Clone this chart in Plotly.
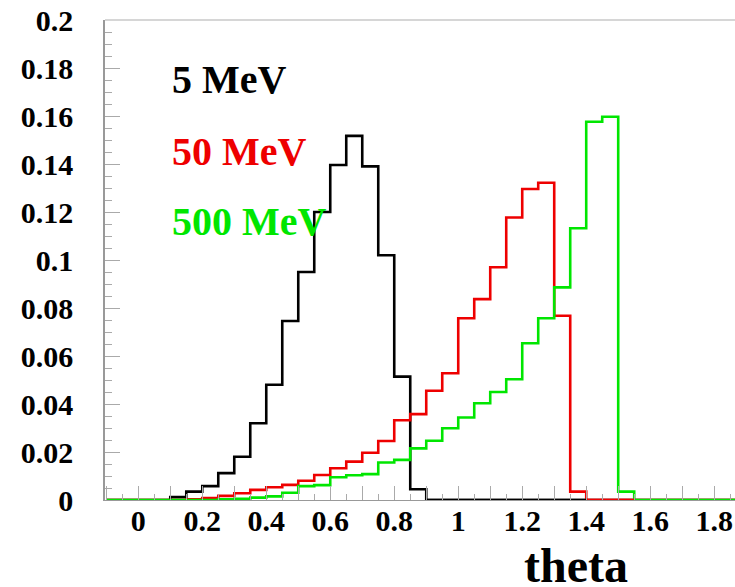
import plotly.graph_objects as go

# ---- data ----
BIN_START = -0.1
BIN_WIDTH = 0.05
N_BINS = 40

black_5mev = [0, 0, 0, 0, 0.0012, 0.0035, 0.0058, 0.0112, 0.018, 0.032,
              0.048, 0.0746, 0.095, 0.120, 0.1396, 0.1517, 0.139, 0.102, 0.0514, 0.0045,
              0, 0, 0, 0, 0, 0, 0, 0, 0, 0,
              0, 0, 0, 0, 0, 0, 0, 0, 0, 0]
red_50mev = [0, 0, 0, 0, 0, 0.0003, 0.0008, 0.0017, 0.0028, 0.0042,
             0.0053, 0.0063, 0.008, 0.0104, 0.0132, 0.016, 0.0197, 0.0246, 0.0332, 0.0358,
             0.0455, 0.0528, 0.0757, 0.0837, 0.097, 0.1177, 0.1296, 0.1322, 0.0768, 0.0035,
             0, 0, 0, 0, 0, 0, 0, 0, 0, 0]
green_500mev = [0, 0, 0, 0, 0, 0, 0, 0.0003, 0.0005, 0.001,
                0.0015, 0.003, 0.0058, 0.0062, 0.0095, 0.0103, 0.0108, 0.0156, 0.0167, 0.0215,
                0.0247, 0.0299, 0.0344, 0.0403, 0.045, 0.0503, 0.0653, 0.0757, 0.0886, 0.1132,
                0.1576, 0.1597, 0.0035, 0, 0, 0, 0, 0, 0, 0]

series_labels = ["5 MeV", "50 MeV", "500 MeV"]
series_colors = ["#000000", "#ee0000", "#00e600"]

x_tick_vals = [round(-0.1 + 0.1 * i, 1) for i in range(20)]
x_tick_text = ["" if abs(round(v * 10)) % 2 else ("0" if v == 0 else ("1" if v == 1 else f"{v:g}")) for v in x_tick_vals]

x_title = "theta"

# ---- build ----
edges = [BIN_START + BIN_WIDTH * i for i in range(N_BINS + 1)]

def last_edge(vals):
    idx = max(i for i, v in enumerate(vals) if v > 0)
    return edges[idx + 1]

FONT = "Liberation Serif"
fig = go.Figure()
for vals, col in zip([black_5mev, red_50mev, green_500mev], series_colors):
    fig.add_trace(go.Scatter(x=edges, y=list(vals) + [vals[-1]], mode="lines",
                             line=dict(color=col, width=2.6, shape="hv"),
                             showlegend=False, hoverinfo="skip", cliponaxis=False))

# zero-level tails, as drawn on top in the original
series = [black_5mev, red_50mev, green_500mev]
for i in range(2):
    a, b = last_edge(series[i]), last_edge(series[i + 1])
    fig.add_trace(go.Scatter(x=[a, b], y=[0, 0], mode="lines",
                             line=dict(color=series_colors[i], width=2.6),
                             showlegend=False, hoverinfo="skip", cliponaxis=False))

label_y = [0.877, 0.727, 0.581]
for lab, col, yy in zip(series_labels, series_colors, label_y):
    fig.add_annotation(text=lab, xref="paper", yref="paper", x=0.103, y=yy,
                       xanchor="left", yanchor="middle", showarrow=False,
                       font=dict(family=FONT, size=40, color=col, weight="bold"))

fig.add_annotation(text=x_title, xref="paper", yref="paper", x=0.833, y=-0.137,
                   xanchor="right", yanchor="middle", showarrow=False,
                   font=dict(family=FONT, size=48, color="black", weight="bold"))

# top frame line
fig.add_shape(type="line", xref="paper", yref="paper", x0=0, x1=1, y0=1, y1=1,
              line=dict(color="#c8c8c8", width=1.5), layer="below")

fig.update_layout(
    template="none",
    width=735, height=587,
    margin=dict(l=105, r=0, t=20, b=87, autoexpand=False),
    paper_bgcolor="white", plot_bgcolor="white",
    xaxis=dict(range=[-0.104, 1.865], showgrid=False, zeroline=False, automargin=False,
               showline=True, linecolor="#999999", linewidth=1,
               tickmode="array", tickvals=x_tick_vals, ticktext=x_tick_text,
               ticks="inside", ticklen=14, tickcolor="#aaaaaa", tickwidth=1,
               minor=dict(tickmode="linear", tick0=0, dtick=0.05, ticks="inside",
                          ticklen=6, tickcolor="#aaaaaa", showgrid=False),
               tickfont=dict(family=FONT, size=30, color="black", weight="bold"),
               ticklabelstandoff=-6),
    yaxis=dict(range=[0, 0.2], showgrid=False, zeroline=False, automargin=False,
               showline=True, linecolor="#999999", linewidth=1.5,
               tickmode="linear", tick0=0, dtick=0.02,
               ticks="inside", ticklen=15, tickcolor="#aaaaaa", tickwidth=1,
               minor=dict(tickmode="linear", tick0=0, dtick=0.005, ticks="inside",
                          ticklen=7, tickcolor="#aaaaaa", showgrid=False),
               tickfont=dict(family=FONT, size=30, color="black", weight="bold"),
               ticklabelstandoff=24),
)

fig.write_html("out.html", config={"displayModeBar": False},
               post_script="document.body.style.margin='0px';document.body.style.overflow='hidden';")
